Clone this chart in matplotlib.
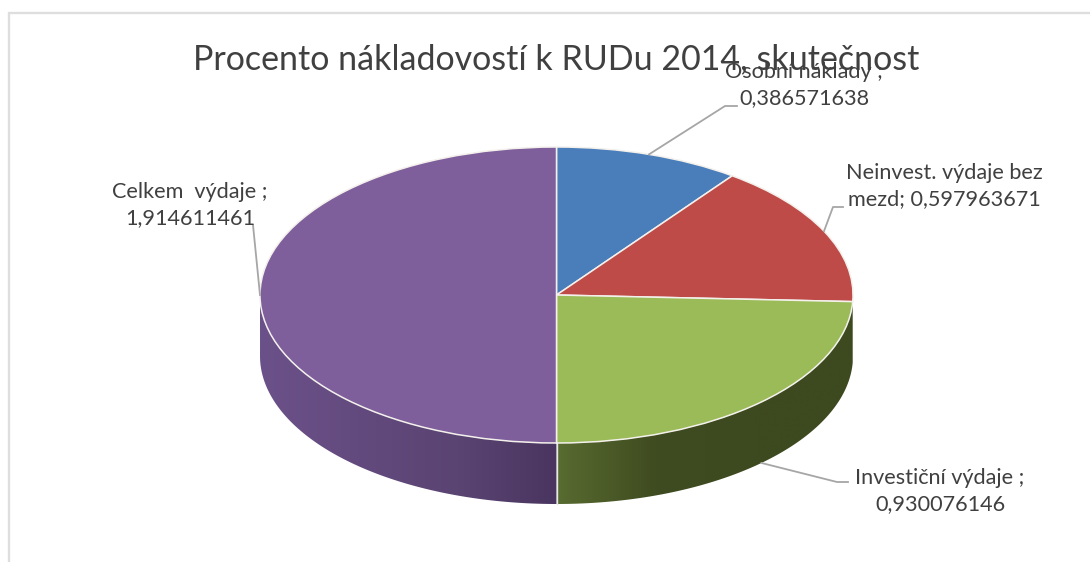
import numpy as np
import matplotlib
matplotlib.use("Agg")
import matplotlib.pyplot as plt
from matplotlib.colors import LinearSegmentedColormap
from matplotlib.patches import Polygon

title = "Procento nákladovostí k RUDu 2014, skutečnost"
values = [0.386571638, 0.597963671, 0.930076146, 1.914611461]
labelText = ["Osobní náklady ;\n0,386571638",
             "Neinvest. výdaje bez\nmezd; 0,597963671",
             "Investiční výdaje ;\n0,930076146",
             "Celkem  výdaje ;\n1,914611461"]
topColors = ["#4a7ebb", "#be4b48", "#9bbb59", "#7e5f9c"]
wallStops = [["#2c4a70", "#2c4a70"],
             ["#5e2524", "#5e2524"],
             ["#586b30", "#3f4b20", "#3d491f", "#3d491f"],
             ["#6b5189", "#634a7e", "#5a4472", "#4a3560"]]

# pie geometry in pixels of the 1090x562 picture
W, H = 1090, 562
cx, cy, rx, ry = 556.5, 295.0, 296.5, 148.0
depthPx = 61.0
depth = depthPx / ry

# label centre and leader bend points, in pixels
labelPos = [(804, 85), (944, 186), (940, 491), (190, 205)]
leaderBend = [[(725, 106), (737, 106)], [(833, 207), (843, 207)],
              [(837, 482), (848, 482)], [(253, 225)]]
leaderOnWall = [False, False, True, False]


def px(x, y):
    return (x - cx) / rx, (cy - y) / ry


plt.rcParams["font.family"] = ["Lato", "DejaVu Sans"]
fig = plt.figure(figsize=(W / 100, H / 100), dpi=100, facecolor="white")
ax = fig.add_axes([0, 0, 1, 1])

# side walls, only the front half of the ring is visible
shares = np.array(values) / sum(values) * 360
ends = 90 - np.cumsum(shares)
starts = ends + shares
for i in range(len(values)):
    a0 = max(ends[i], -180)
    a1 = min(starts[i], 0)
    if a1 <= a0:
        continue
    t = np.radians(np.linspace(a0, a1, 200))
    upper = np.column_stack([np.cos(t), np.sin(t)])
    lower = (upper - [0, depth])[::-1]
    wall = Polygon(np.vstack([upper, lower]), closed=True, transform=ax.transData,
                   facecolor="none", edgecolor="none")
    ax.add_patch(wall)
    cmap = LinearSegmentedColormap.from_list("wall" + str(i), wallStops[i])
    grad = np.linspace(0, 1, 256).reshape(1, -1)
    im = ax.imshow(grad, cmap=cmap, aspect="auto", zorder=1,
                   extent=[upper[:, 0].min(), upper[:, 0].max(), -1 - depth, 0.1])
    im.set_clip_path(wall)

# white seam where purple and green walls meet
ax.plot([0, 0], [-1, -1 - depth], color="#e8e8e8", lw=1, zorder=2)

# top face
wedges, _ = ax.pie(values, colors=topColors, startangle=90, counterclock=False,
                   radius=1, wedgeprops=dict(edgecolor="#f4f1ec", linewidth=1.1))
for w in wedges:
    w.set_zorder(3)

ax.set_aspect("auto")
ax.set_xlim(-cx / rx, (W - cx) / rx)
ax.set_ylim((cy - H) / ry, cy / ry)
ax.axis("off")

# chart frame, open at right and bottom
fx, fy = zip(*[px(9, H), px(9, 13), px(W, 13)])
ax.plot(fx, fy, color="#dedede", lw=1.7, zorder=1, solid_joinstyle="miter")

tx, ty = px(556, 69)
ax.text(tx, ty, title, fontsize=24.5, color="#404040", ha="center", va="baseline", zorder=5)

# leader lines start at the middle of each slice
mids = np.radians((starts + ends) / 2)
for i in range(len(values)):
    sx, sy = np.cos(mids[i]), np.sin(mids[i])
    if leaderOnWall[i]:
        sy = sy - depth
    pts = [px(*p) for p in leaderBend[i]]
    lx = [sx] + [p[0] for p in pts]
    ly = [sy] + [p[1] for p in pts]
    ax.plot(lx, ly, color="#a6a6a6", lw=1.3, zorder=4)
    tx, ty = px(*labelPos[i])
    ax.text(tx, ty, labelText[i], fontsize=15.6, color="#404040", ha="center",
            va="center", linespacing=1.36, zorder=6)

fig.savefig("out.png", dpi=100)
